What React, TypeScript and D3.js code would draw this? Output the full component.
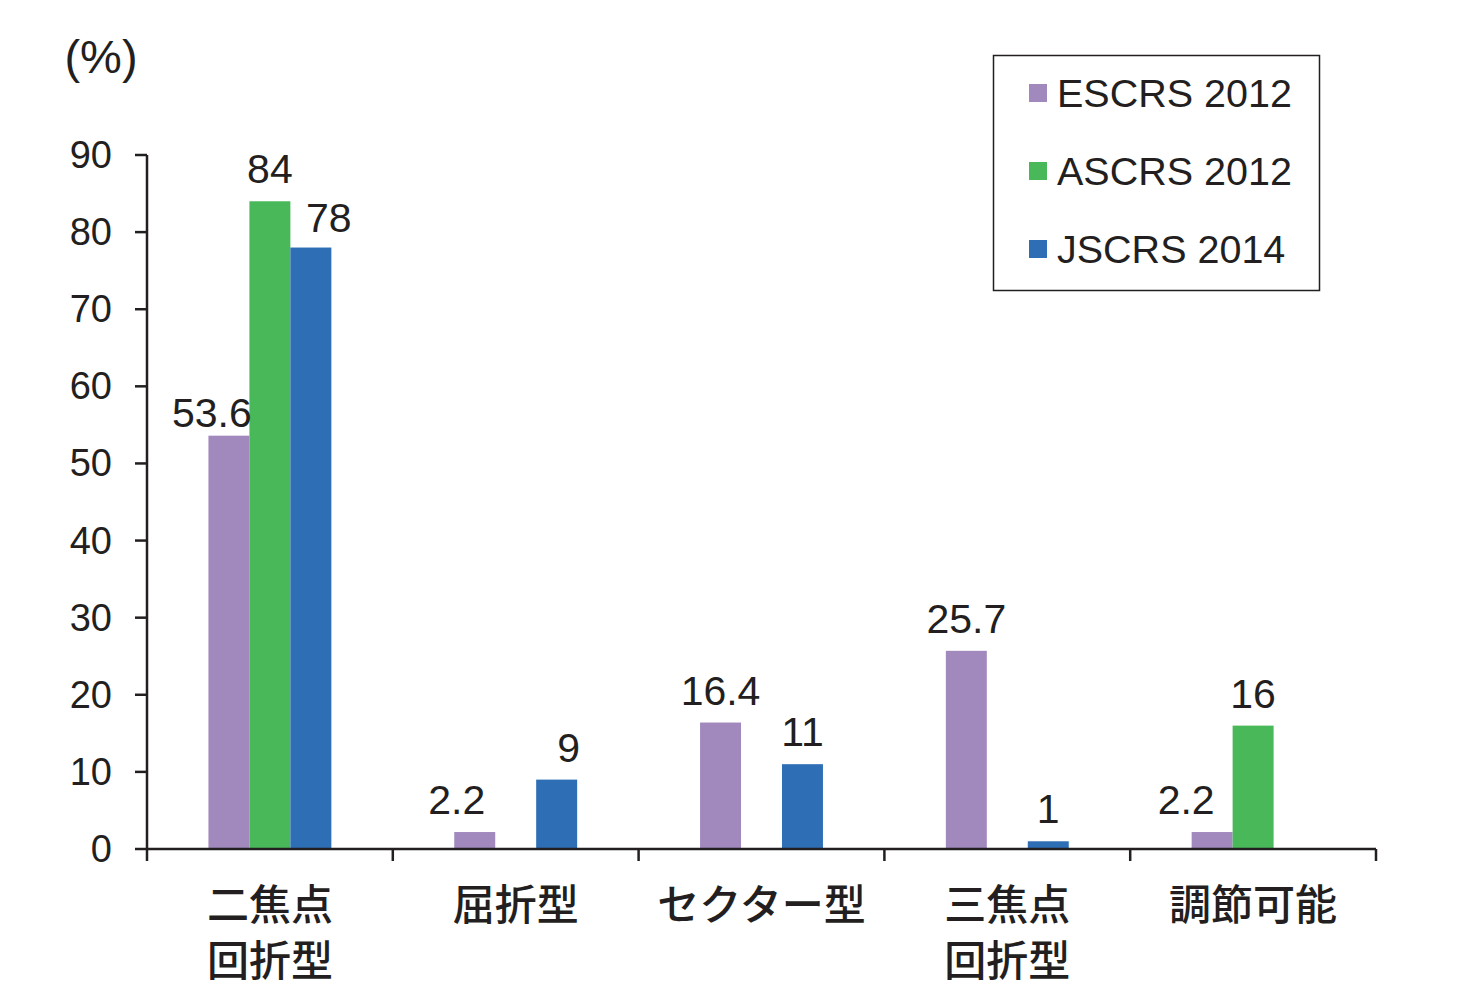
import React from "react";
import * as d3 from "d3";

const categories: string[][] = [["二焦点", "回折型"], ["屈折型"], ["セクター型"], ["三焦点", "回折型"], ["調節可能"]];
const seriesNames = ["ESCRS 2012", "ASCRS 2012", "JSCRS 2014"];
const escrs: (number | null)[] = [53.6, 2.2, 16.4, 25.7, 2.2];
const ascrs: (number | null)[] = [84, null, null, null, 16];
const jscrs: (number | null)[] = [78, 9, 11, 1, null];
const yTicks = [0, 10, 20, 30, 40, 50, 60, 70, 80, 90];
const colors = ["#A189BD", "#48B859", "#2D6EB5"];

// label nudges (layout only), indexed [series][category]
const labelDx = [[-17, -18, 0, 0, -26], [0, 0, 0, 0, 0], [18, 12, 0, 0, 0]];
const labelDy = [[-9, -18, -18, -18, -18], [-18, -18, -18, -18, -18], [-16, -18, -18, -18, -18]];

const W = 1464, H = 1004;
const left = 147, right = 1376, top = 155, bottom = 849;
const INK = "#231F20";

export default function App() {
  const series = [escrs, ascrs, jscrs];
  const catIdx = categories.map((_, i) => String(i));
  const x0 = d3.scaleBand<string>().domain(catIdx).range([left, right]).padding(0);
  const x1 = d3.scaleBand<string>().domain(seriesNames).range([0, x0.bandwidth()]).paddingInner(0).paddingOuter(1.5);
  const y = d3.scaleLinear().domain([0, 90]).range([bottom, top]);
  const bounds = [...catIdx.map((c) => x0(c)!), right];
  const num = "'Liberation Sans', Arial, sans-serif";
  const cjk = "'Noto Sans CJK JP', sans-serif";

  return (
    <svg width={W} height={H} style={{ position: "absolute", left: 0, top: 0, background: "#fff" }}>
      <rect width={W} height={H} fill="#fff" />
      <text x={101} y={73} fontFamily={num} fontSize={47} fill={INK} textAnchor="middle">(%)</text>
      {/* bars */}
      {series.map((vals, si) =>
        vals.map((v, ci) =>
          v == null ? null : (
            <rect key={`b${si}-${ci}`} x={x0(String(ci))! + x1(seriesNames[si])!} y={y(v)}
              width={x1.bandwidth()} height={y(0) - y(v)} fill={colors[si]} />
          )
        )
      )}
      {/* labels */}
      {series.map((vals, si) =>
        vals.map((v, ci) =>
          v == null ? null : (
            <text key={`l${si}-${ci}`} x={x0(String(ci))! + x1(seriesNames[si])! + x1.bandwidth() / 2 + labelDx[si][ci]}
              y={y(v) + labelDy[si][ci]} textAnchor="middle" fontFamily={num} fontSize={41} fill={INK}>
              {String(v)}
            </text>
          )
        )
      )}
      {/* y axis */}
      <line x1={left} x2={left} y1={top} y2={bottom} stroke={INK} strokeWidth={2.5} />
      {yTicks.map((t) => (
        <g key={`t${t}`}>
          <line x1={left - 12} x2={left} y1={y(t)} y2={y(t)} stroke={INK} strokeWidth={2.5} />
          <text x={112} y={y(t) + 13} textAnchor="end" fontFamily={num} fontSize={38} fill={INK}>{t}</text>
        </g>
      ))}
      {/* x axis */}
      <line x1={left} x2={right} y1={bottom} y2={bottom} stroke={INK} strokeWidth={2.5} />
      {bounds.map((b, i) => (
        <line key={`xt${i}`} x1={b} x2={b} y1={bottom} y2={bottom + 12} stroke={INK} strokeWidth={2.5} />
      ))}
      {categories.map((lines, ci) => (
        <text key={`c${ci}`} x={x0(String(ci))! + x0.bandwidth() / 2} textAnchor="middle" fontFamily={cjk} fontSize={42} fontWeight={500} fill={INK}>
          {lines.map((ln, li) => (
            <tspan key={li} x={x0(String(ci))! + x0.bandwidth() / 2} y={920 + li * 56}>{ln}</tspan>
          ))}
        </text>
      ))}
      {/* legend */}
      <rect x={993.5} y={55.5} width={326} height={235} fill="#fff" stroke={INK} strokeWidth={1.5} />
      {seriesNames.map((s, i) => (
        <g key={s}>
          <rect x={1029} y={84 + i * 78} width={18} height={18} fill={colors[i]} />
          <text x={1057} y={107 + i * 78} fontFamily={num} fontSize={39.5} fill={INK}>{s}</text>
        </g>
      ))}
    </svg>
  );
}
